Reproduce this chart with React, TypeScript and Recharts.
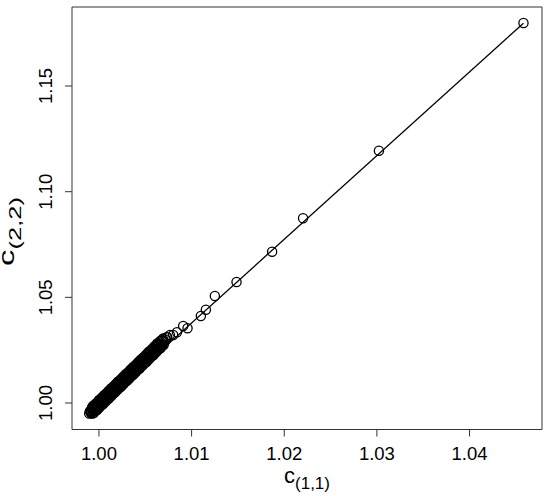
import { ScatterChart, Scatter, XAxis, YAxis, ReferenceArea } from 'recharts';

// c(1,1) / c(2,2) pairs
const c11 = [
  0.99895, 0.9991, 0.9992, 0.99932, 0.9994, 0.99951, 0.99958, 0.99967, 0.99975, 0.99983,
  0.9999, 0.99998, 1.00006, 1.00013, 1.00021, 1.0003, 1.00037, 1.00046, 1.00055, 1.00063,
  1.00072, 1.00081, 1.0009, 1.001, 1.00109, 1.00118, 1.00129, 1.0014, 1.0015, 1.00161,
  1.00172, 1.00184, 1.00196, 1.00208, 1.00221, 1.00234, 1.00248, 1.00262, 1.00276, 1.00291,
  1.00306, 1.00322, 1.00338, 1.00355, 1.00372, 1.0039, 1.00408, 1.00427, 1.00446, 1.00466,
  1.00486, 1.00507, 1.00528, 1.0055, 1.00573, 1.00596, 1.0062, 1.00645, 1.0067, 1.00696,
  1.00722, 1.00738, 1.00766, 1.00801, 1.00842, 1.00909, 1.00956, 1.011, 1.01154, 1.01251,
  1.01485, 1.01869, 1.02203, 1.03022, 1.04582,
];
const c22 = [
  0.995, 0.99594, 0.99567, 0.99708, 0.99672, 0.99759, 0.99708, 0.99847, 0.99831, 0.99935,
  0.99855, 0.99949, 0.99943, 1.00053, 1.00017, 1.00105, 1.00045, 1.00163, 1.00152, 1.00276,
  1.00244, 1.00322, 1.00281, 1.00413, 1.00392, 1.0046, 1.00457, 1.00594, 1.00566, 1.00663,
  1.0062, 1.00751, 1.00772, 1.00893, 1.00859, 1.00964, 1.00954, 1.01103, 1.01113, 1.01217,
  1.01211, 1.01369, 1.01367, 1.0147, 1.01482, 1.01649, 1.01665, 1.01796, 1.01807, 1.01952,
  1.02008, 1.02147, 1.02167, 1.0231, 1.02348, 1.02516, 1.02569, 1.02725, 1.02772, 1.02933,
  1.03003, 1.03111, 1.03218, 1.03218, 1.0335, 1.03644, 1.03535, 1.04117, 1.04415, 1.05064,
  1.05726, 1.0716, 1.08741, 1.1194, 1.17984,
];

// more of the crowded cluster near (1, 1)
const c11b = [
  0.99902, 0.99914, 0.99926, 0.99936, 0.99946, 0.99955, 0.99963, 0.99971, 0.99979, 0.99987,
  0.99994, 1.00002, 1.0001, 1.00017, 1.00026, 1.00034, 1.00042, 1.0005, 1.00059, 1.00068,
  1.00077, 1.00086, 1.00095, 1.00105, 1.00114, 1.00124, 1.00135, 1.00145, 1.00156, 1.00167,
  1.00178, 1.0019, 1.00202, 1.00215, 1.00228, 1.00241, 1.00255, 1.00269, 1.00284, 1.00299,
  1.00314, 1.0033, 1.00347, 1.00364, 1.00381, 1.00399, 1.00418, 1.00437, 1.00456, 1.00476,
  1.00497, 1.00518, 1.00539, 1.00562, 1.00585, 1.00608, 1.00632, 1.00657, 1.00683, 1.00709,
  1.0073,
];
const c22b = [
  0.9961, 0.99511, 0.99722, 0.99595, 0.99817, 0.99666, 0.9987, 0.99724, 0.99948, 0.99812,
  1.00022, 0.99866, 1.0007, 0.9992, 1.00148, 1.00012, 1.00226, 1.0007, 1.00279, 1.00137,
  1.00365, 1.00234, 1.00452, 1.00305, 1.00513, 1.00376, 1.00612, 1.00485, 1.00712, 1.00569,
  1.00786, 1.00657, 1.00898, 1.00783, 1.01019, 1.00884, 1.01114, 1.00993, 1.01247, 1.01141,
  1.01385, 1.01263, 1.01506, 1.01398, 1.0166, 1.01567, 1.01828, 1.01719, 1.0197, 1.01875,
  1.02155, 1.02074, 1.02343, 1.02251, 1.02519, 1.02437, 1.0273, 1.02666, 1.02957, 1.02878,
  1.03117,
];

// upper edge of the cluster
const c11c = [
  0.99925, 0.99938, 0.9995, 0.99963, 0.99976, 0.99988, 1.00001, 1.00014, 1.00027, 1.00039,
  1.00052, 1.00065, 1.00078, 1.00091, 1.00103, 1.00116, 1.00129, 1.00142, 1.00155, 1.00168,
  1.00181, 1.00194, 1.00207, 1.0022, 1.00233, 1.00246, 1.00259, 1.00272, 1.00286, 1.00299,
  1.00312, 1.00326, 1.00339, 1.00353, 1.00366, 1.0038, 1.00394, 1.00408, 1.00422, 1.00436,
  1.0045, 1.00464, 1.00479, 1.00493, 1.00508, 1.00522, 1.00537, 1.00552, 1.00567, 1.00582,
  1.00597, 1.00612, 1.00628, 1.00643, 1.00659, 1.00675, 1.0069,
];
const c22c = [
  0.99788, 0.99873, 0.99874, 0.9997, 0.99995, 1.00066, 1.00142, 1.00147, 1.00242, 1.00273,
  1.00359, 1.00364, 1.0045, 1.00485, 1.00566, 1.00601, 1.00687, 1.00692, 1.00778, 1.00813,
  1.00898, 1.00934, 1.01019, 1.01025, 1.0111, 1.01145, 1.01231, 1.01266, 1.01356, 1.01361,
  1.01447, 1.01486, 1.01571, 1.01611, 1.01696, 1.01706, 1.01796, 1.01835, 1.01925, 1.01965,
  1.02054, 1.02064, 1.02158, 1.02197, 1.02291, 1.02331, 1.02425, 1.02439, 1.02533, 1.02577,
  1.02671, 1.02714, 1.02813, 1.02826, 1.02925, 1.02973, 1.03047,
];

// lower edge of the cluster
const c11d = [
  0.99931, 0.99944, 0.99957, 0.99969, 0.99982, 0.99995, 1.00008, 1.0002, 1.00033, 1.00046,
  1.00059, 1.00072, 1.00085, 1.00097, 1.0011, 1.00123, 1.00136, 1.00149, 1.00162, 1.00175,
  1.00188, 1.00201, 1.00214, 1.00227, 1.0024, 1.00253, 1.00266, 1.00279, 1.00293, 1.00306,
  1.00319, 1.00333, 1.00346, 1.0036, 1.00373, 1.00387, 1.00401, 1.00415, 1.00429, 1.00443,
  1.00457, 1.00471, 1.00486, 1.005, 1.00515, 1.0053, 1.00545, 1.0056, 1.00575, 1.0059,
  1.00605, 1.0062, 1.00636, 1.00651, 1.00667, 1.00683, 1.00698,
];
const c22d = [
  0.99503, 0.99529, 0.99624, 0.99645, 0.99681, 0.99776, 0.99801, 0.99893, 0.99918, 0.99953,
  1.00049, 1.00074, 1.00169, 1.00191, 1.00226, 1.00321, 1.00347, 1.00442, 1.00467, 1.00503,
  1.00598, 1.00624, 1.00719, 1.00744, 1.0078, 1.00875, 1.009, 1.00996, 1.01025, 1.01061,
  1.01156, 1.01186, 1.01281, 1.01311, 1.01346, 1.01446, 1.01476, 1.01575, 1.01605, 1.01644,
  1.01744, 1.01774, 1.01878, 1.01907, 1.01951, 1.02055, 1.02089, 1.02193, 1.02227, 1.02271,
  1.02375, 1.02409, 1.02517, 1.02551, 1.02599, 1.02707, 1.02741,
];

// straight reference line drawn through the cloud
const fitX = [0.99895, 1.04582];
const fitY = [0.99415, 1.17971];

const xTicks = [1.0, 1.01, 1.02, 1.03, 1.04];
const yTicks = [1.0, 1.05, 1.1, 1.15];

const X_DOMAIN = [0.99709, 1.04782];
const Y_DOMAIN = [0.98746, 1.1874];

const pair = (xs: number[], ys: number[]) => xs.map((x, i) => ({ x, y: ys[i] }));
const points = [
  ...pair(c11d, c22d),
  ...pair(c11c, c22c),
  ...pair(c11b, c22b),
  ...pair(c11, c22),
];
const fitLine = pair(fitX, fitY);

const FONT = '"Liberation Sans", Arial, Helvetica, sans-serif';

const XTick = ({ x, y, payload }: any) => (
  <text x={x} y={y + 23} textAnchor="middle" fontSize={18.5} fontFamily={FONT} fill="#000">
    {Number(payload.value).toFixed(2)}
  </text>
);

const YTick = ({ x, y, payload }: any) => (
  <text
    transform={`translate(${x - 13},${y}) rotate(-90)`}
    textAnchor="middle"
    fontSize={18.5}
    fontFamily={FONT}
    fill="#000"
  >
    {Number(payload.value).toFixed(2)}
  </text>
);

const XTitle = ({ viewBox }: any) => (
  <text
    x={viewBox.x + viewBox.width / 2}
    y={viewBox.y + 53.5}
    textAnchor="middle"
    fontFamily={FONT}
    fill="#000"
  >
    <tspan fontSize={22}>c</tspan>
    <tspan fontSize={17} dy={6}>(1,1)</tspan>
  </text>
);

// the y title in the source is drawn a bit stretched along its length
const YTitle = ({ viewBox }: any) => (
  <text
    transform={`translate(14,${viewBox.y + 224.5}) rotate(-90) scale(1.5,1)`}
    textAnchor="middle"
    fontFamily={FONT}
    fill="#000"
  >
    <tspan fontSize={22}>c</tspan>
    <tspan fontSize={17} dy={7}>(2,2)</tspan>
  </text>
);

const OpenCircle = ({ cx, cy }: any) => (
  <circle cx={cx} cy={cy} r={4.6} fill="none" stroke="#000" strokeWidth={1.3} />
);

export default function App() {
  return (
    <div style={{ position: 'absolute', left: 0, top: 0, background: '#fff' }}>
      <ScatterChart width={550} height={496} margin={{ top: 7, right: 8, bottom: 0, left: 0 }}>
        <XAxis
          type="number"
          dataKey="x"
          domain={X_DOMAIN}
          ticks={xTicks}
          allowDataOverflow
          axisLine={false}
          tickLine={{ stroke: '#333' }}
          tickSize={7}
          tickMargin={0}
          height={66.5}
          tick={XTick}
          label={{ content: XTitle }}
        />
        <YAxis
          type="number"
          dataKey="y"
          domain={Y_DOMAIN}
          ticks={yTicks}
          allowDataOverflow
          axisLine={false}
          tickLine={{ stroke: '#333' }}
          tickSize={7}
          tickMargin={0}
          width={72}
          tick={YTick}
          label={{ content: YTitle }}
        />
        <ReferenceArea
          x1={X_DOMAIN[0]}
          x2={X_DOMAIN[1]}
          y1={Y_DOMAIN[0]}
          y2={Y_DOMAIN[1]}
          fill="none"
          fillOpacity={0}
          stroke="#333"
          strokeWidth={1}
          ifOverflow="visible"
        />
        <Scatter
          data={fitLine}
          line={{ stroke: '#000', strokeWidth: 1.3 }}
          shape={() => <g />}
          isAnimationActive={false}
        />
        <Scatter data={points} shape={OpenCircle} isAnimationActive={false} />
      </ScatterChart>
    </div>
  );
}
